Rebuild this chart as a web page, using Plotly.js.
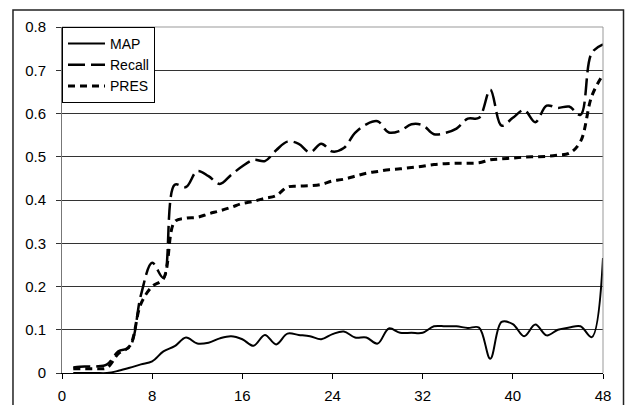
<!DOCTYPE html>
<html>
<head>
<meta charset="utf-8">
<script src="https://cdn.plot.ly/plotly-3.0.1.min.js"></script>
<style>html,body{margin:0;padding:0;background:#fff;}#chart{width:628px;height:405px;}</style>
</head>
<body>
<div id="chart"></div>
<script>
const xs = [1,2,3,4,5,6,7,8,9,10,11,12,13,14,15,16,17,18,19,20,21,22,23,24,25,26,27,28,29,30,31,32,33,34,35,36,37,38,39,40,41,42,43,44,45,46,47,48];
const mapVals = [0,0,0,0,0.005,0.012,0.02,0.027,0.05,0.062,0.082,0.068,0.07,0.08,0.085,0.078,0.063,0.088,0.066,0.091,0.088,0.085,0.078,0.09,0.096,0.082,0.082,0.068,0.103,0.093,0.093,0.093,0.108,0.108,0.108,0.104,0.105,0.033,0.118,0.113,0.085,0.112,0.087,0.1,0.105,0.108,0.083,0.266];
const recallVals = [0.013,0.015,0.015,0.02,0.05,0.06,0.18,0.255,0.22,0.435,0.43,0.467,0.455,0.437,0.458,0.478,0.493,0.49,0.515,0.535,0.53,0.51,0.53,0.512,0.52,0.555,0.575,0.582,0.556,0.56,0.575,0.573,0.552,0.555,0.565,0.588,0.59,0.655,0.572,0.59,0.608,0.58,0.618,0.613,0.616,0.597,0.74,0.76];
const presVals = [0.01,0.01,0.01,0.012,0.045,0.062,0.16,0.2,0.218,0.35,0.358,0.36,0.368,0.375,0.383,0.392,0.397,0.404,0.41,0.43,0.432,0.433,0.436,0.444,0.448,0.455,0.462,0.466,0.47,0.472,0.475,0.478,0.482,0.484,0.485,0.485,0.486,0.493,0.495,0.497,0.499,0.5,0.501,0.504,0.508,0.535,0.64,0.69];
const seriesNames = ["MAP","Recall","PRES"];
const xTicks = [0,8,16,24,32,40,48];
const yTicks = [0,0.1,0.2,0.3,0.4,0.5,0.6,0.7,0.8];
const yTickText = ["0","0.1","0.2","0.3","0.4","0.5","0.6","0.7","0.8"];

const font = "Liberation Sans, Arial, sans-serif";
const traces = [
  {x: xs, y: mapVals, name: seriesNames[0], mode: "lines",
   line: {color: "#000", width: 2, shape: "spline", smoothing: 1}},
  {x: xs, y: recallVals, name: seriesNames[1], mode: "lines",
   line: {color: "#000", width: 2.5, dash: "17px,6px", shape: "spline", smoothing: 1}},
  {x: xs, y: presVals, name: seriesNames[2], mode: "lines",
   line: {color: "#000", width: 3, dash: "7px,5px", shape: "spline", smoothing: 1}}
];

const layout = {
  width: 628, height: 405,
  margin: {l: 62, r: 25, t: 27, b: 32},
  paper_bgcolor: "#fff", plot_bgcolor: "#fff",
  font: {family: font, size: 15, color: "#000"},
  showlegend: true,
  legend: {x: 0, y: 1, xanchor: "left", yanchor: "top",
    bgcolor: "#fff", bordercolor: "#000", borderwidth: 1,
    font: {family: font, size: 14, color: "#000"}, itemwidth: 37, tracegroupgap: 0},
  xaxis: {range: [0, 48], tickvals: xTicks, ticktext: xTicks.map(String),
    showgrid: false, zeroline: false, showline: true, linecolor: "#000", linewidth: 1,
    ticks: "outside", ticklen: 5, tickcolor: "#000", tickwidth: 1,
    tickfont: {family: font, size: 15, color: "#000"}, ticklabelstandoff: 4},
  yaxis: {range: [0, 0.8], tickvals: yTicks, ticktext: yTickText,
    showgrid: true, gridcolor: "#333", gridwidth: 1, zeroline: false,
    showline: true, linecolor: "#777", linewidth: 1,
    ticks: "outside", ticklen: 5, tickcolor: "#333", tickwidth: 1,
    tickfont: {family: font, size: 15, color: "#000"}, ticklabelstandoff: 7},
  shapes: [
    {type: "rect", xref: "paper", yref: "paper", x0: -0.0906, x1: 1.0379, y0: -0.12, y1: 1.049,
     line: {color: "#222", width: 1.5}, fillcolor: "rgba(0,0,0,0)", layer: "below"},
    {type: "line", xref: "paper", yref: "paper", x0: 0, x1: 1, y0: 1, y1: 1,
     line: {color: "#999", width: 1}, layer: "above"},
    {type: "line", xref: "paper", yref: "paper", x0: 1, x1: 1, y0: 0, y1: 1,
     line: {color: "#999", width: 1}, layer: "above"}
  ]
};

Plotly.newPlot("chart", traces, layout, {staticPlot: true, displayModeBar: false});
</script>
</body>
</html>
